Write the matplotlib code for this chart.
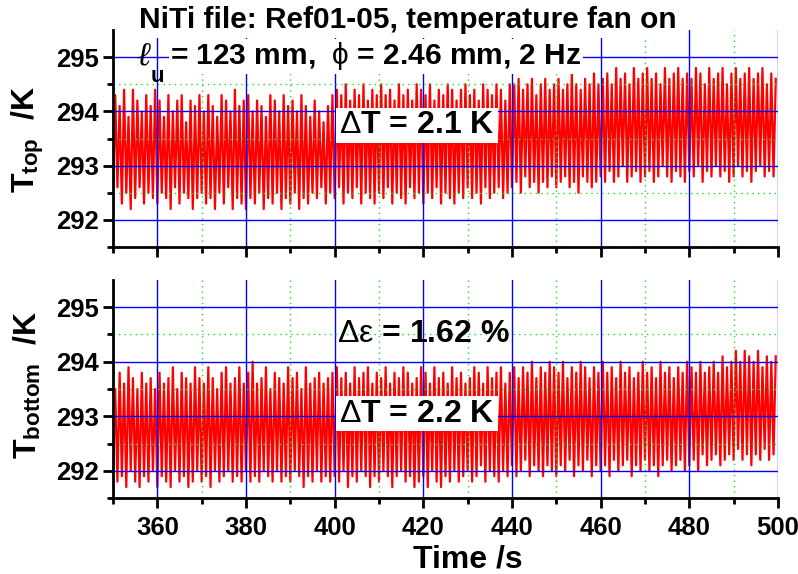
import numpy as np
import matplotlib.pyplot as plt
from matplotlib.ticker import MultipleLocator, FixedLocator

plt.rcParams['font.family'] = ['Liberation Sans', 'DejaVu Sans']
plt.rcParams['font.weight'] = 'bold'
plt.rcParams['mathtext.fontset'] = 'custom'
plt.rcParams['mathtext.rm'] = 'Liberation Sans:regular'
plt.rcParams['mathtext.bf'] = 'Liberation Sans:bold'
plt.rcParams['mathtext.it'] = 'Liberation Serif:italic:regular'

# one peak and one trough per second (350 s ... 499 s)
top_peaks = [
    294.3, 294.1, 294.4, 293.9, 294.4, 294.2, 294.0, 294.3, 294.1, 294.4,
    294.2, 293.9, 294.3, 294.0, 294.2, 294.3, 293.8, 294.2, 294.1, 294.3,
    294.0, 294.3, 294.1, 293.9, 294.3, 294.2, 294.0, 294.4, 294.1, 294.2,
    294.3, 294.0, 294.2, 294.1, 293.9, 294.3, 294.2, 294.0, 294.3, 294.1,
    294.2, 294.0, 294.3, 294.1, 293.9, 294.2, 294.0, 293.8, 294.1, 294.3,
    294.4, 294.3, 294.5, 294.2, 294.4, 294.3, 294.5, 294.2, 294.4, 294.3,
    294.5, 294.3, 294.4, 294.2, 294.5, 294.3, 294.4, 294.2, 294.5, 294.4,
    294.3, 294.5, 294.2, 294.4, 294.3, 294.5, 294.4, 294.2, 294.4, 294.5,
    294.3, 294.4, 294.2, 294.5, 294.4, 294.3, 294.5, 294.4, 294.2, 294.5,
    294.5, 294.6, 294.4, 294.5, 294.6, 294.3, 294.5, 294.6, 294.4, 294.5,
    294.6, 294.4, 294.5, 294.7, 294.5, 294.4, 294.6, 294.5, 294.7, 294.5,
    294.6, 294.7, 294.5, 294.8, 294.6, 294.7, 294.5, 294.8, 294.6, 294.7,
    294.8, 294.6, 294.7, 294.5, 294.8, 294.6, 294.7, 294.8, 294.6, 294.7,
    294.6, 294.8, 294.7, 294.5, 294.8, 294.6, 294.7, 294.8, 294.5, 294.7,
    294.8, 294.6, 294.7, 294.8, 294.6, 294.7, 294.8, 294.5, 294.7, 294.6,
]
top_troughs = [
    292.4, 292.6, 292.3, 292.5, 292.2, 292.4, 292.6, 292.3, 292.5, 292.4,
    292.3, 292.5, 292.4, 292.2, 292.6, 292.3, 292.5, 292.4, 292.2, 292.4,
    292.5, 292.3, 292.4, 292.2, 292.5, 292.3, 292.6, 292.2, 292.4, 292.3,
    292.2, 292.4, 292.3, 292.5, 292.2, 292.4, 292.3, 292.5, 292.2, 292.4,
    292.3, 292.5, 292.2, 292.4, 292.3, 292.5, 292.4, 292.6, 292.3, 292.5,
    292.4, 292.6, 292.3, 292.5, 292.4, 292.6, 292.3, 292.5, 292.4, 292.3,
    292.5, 292.4, 292.6, 292.3, 292.5, 292.4, 292.3, 292.6, 292.4, 292.5,
    292.3, 292.5, 292.4, 292.6, 292.3, 292.5, 292.4, 292.3, 292.5, 292.4,
    292.6, 292.4, 292.5, 292.3, 292.6, 292.4, 292.5, 292.6, 292.4, 292.5,
    292.6, 292.7, 292.5, 292.8, 292.6, 292.7, 292.5, 292.7, 292.6, 292.8,
    292.6, 292.7, 292.8, 292.6, 292.7, 292.5, 292.8, 292.7, 292.6, 292.7,
    292.8, 292.7, 292.9, 292.7, 292.8, 293.0, 292.7, 292.8, 292.9, 292.7,
    292.8, 292.9, 292.7, 292.8, 293.0, 292.8, 292.7, 292.9, 292.8, 292.7,
    292.9, 292.8, 293.0, 292.7, 292.9, 292.8, 293.0, 292.8, 292.9, 292.7,
    292.8, 293.0, 292.8, 292.9, 292.7, 292.9, 293.0, 292.8, 292.9, 292.8,
]
bottom_peaks = [
    293.5, 293.8, 293.6, 293.9, 293.7, 293.5, 293.8, 293.6, 293.7, 293.5,
    293.8, 293.6, 293.7, 293.9, 293.5, 293.8, 293.7, 293.6, 293.9, 293.7,
    293.6, 293.9, 293.7, 293.5, 293.8, 293.9, 293.6, 293.7, 293.9, 293.6,
    293.8, 294.0, 293.6, 293.7, 293.9, 293.5, 293.8, 293.7, 293.6, 293.9,
    293.7, 293.8, 293.5, 293.9, 293.6, 293.7, 293.8, 293.6, 293.7, 293.8,
    293.9, 293.7, 293.8, 293.6, 293.9, 293.7, 293.8, 293.9, 293.6, 293.8,
    293.7, 293.9, 293.6, 293.8, 293.7, 293.9, 293.8, 293.6, 293.7, 293.9,
    293.8, 293.6, 293.9, 293.7, 293.8, 293.6, 293.9, 293.7, 293.8, 293.6,
    293.7, 293.9, 293.8, 293.6, 293.9, 293.7, 293.8, 293.9, 293.6, 293.8,
    293.9, 293.7, 293.9, 293.8, 294.0, 293.7, 293.9, 293.8, 294.0, 293.9,
    293.8, 294.0, 293.7, 293.9, 293.8, 294.0, 293.9, 293.7, 293.9, 293.8,
    294.0, 293.8, 293.9, 293.7, 294.0, 293.8, 293.9, 293.7, 293.8, 294.0,
    293.8, 293.9, 293.7, 294.0, 293.8, 293.9, 293.7, 293.9, 293.8, 294.0,
    293.9, 293.8, 294.0, 293.8, 293.9, 294.0, 293.8, 294.1, 293.9, 294.0,
    294.2, 294.0, 294.2, 294.1, 294.0, 294.2, 293.9, 294.1, 294.0, 294.1,
]
bottom_troughs = [
    292.0, 291.8, 291.9, 291.7, 292.0, 291.8, 291.7, 291.9, 291.8, 292.0,
    291.7, 291.9, 291.8, 291.7, 292.0, 291.8, 291.9, 291.7, 291.8, 292.0,
    291.8, 291.9, 291.7, 292.0, 291.8, 291.9, 292.0, 291.8, 291.9, 291.8,
    292.0, 291.8, 291.9, 291.8, 292.0, 291.9, 291.8, 292.0, 291.8, 291.9,
    291.8, 292.0, 291.9, 291.7, 291.9, 291.8, 292.0, 291.8, 291.9, 291.8,
    291.9, 291.8, 292.0, 291.7, 291.9, 291.8, 292.0, 291.9, 291.7, 291.9,
    291.8, 292.0, 291.9, 291.7, 291.9, 292.0, 291.8, 291.9, 291.7, 291.8,
    291.9, 291.7, 292.0, 291.8, 291.7, 291.9, 291.8, 292.0, 291.8, 291.9,
    292.0, 291.8, 291.9, 292.1, 291.8, 292.0, 291.9, 291.8, 292.0, 291.9,
    292.1, 291.9, 292.0, 292.2, 291.9, 292.1, 292.0, 291.9, 292.1, 292.0,
    291.9, 292.1, 292.0, 292.2, 291.9, 292.1, 292.0, 292.2, 291.9, 292.1,
    292.0, 292.1, 291.9, 292.2, 292.0, 292.1, 292.2, 291.9, 292.1, 292.0,
    292.2, 292.0, 292.1, 291.9, 292.1, 292.2, 292.0, 292.1, 292.2, 292.0,
    292.1, 292.2, 292.0, 292.3, 292.1, 292.2, 292.3, 292.1, 292.2, 292.3,
    292.2, 292.4, 292.2, 292.3, 292.1, 292.3, 292.2, 292.4, 292.2, 292.3,
]

t_start = 350.0
half_step = 0.5


def zigzag(peaks, troughs):
    # trough, peak, trough, peak ... every half second
    y = np.column_stack((troughs, peaks)).ravel()
    t = t_start + half_step * np.arange(len(y))
    return t, y


def style_axis(ax, xticklabels):
    ax.set_xlim(350, 500)
    ax.set_ylim(291.5, 295.5)
    ax.xaxis.set_major_locator(MultipleLocator(20))
    ax.xaxis.set_minor_locator(MultipleLocator(10))
    ax.yaxis.set_major_locator(MultipleLocator(1))
    ax.yaxis.set_minor_locator(FixedLocator([291.5, 292.5, 293.5, 294.5]))
    ax.set_axisbelow(False)
    ax.grid(which='major', color='#0000ff', lw=1.0, ls='-')
    ax.grid(which='minor', color='#22dd22', lw=1.0, ls=(0, (1, 3)))
    for s in ('top', 'right'):
        ax.spines[s].set_visible(False)
    for s in ('left', 'bottom'):
        ax.spines[s].set_linewidth(2)
        ax.spines[s].set_zorder(4)
    ax.tick_params(which='major', direction='out', length=7, width=2,
                   labelsize=18.5, pad=3)
    ax.tick_params(which='minor', direction='out', length=4, width=2)
    ax.tick_params(axis='x', pad=6)
    if not xticklabels:
        ax.tick_params(axis='x', labelbottom=False)
    for lab in ax.get_xticklabels() + ax.get_yticklabels():
        lab.set_fontweight('bold')


fig = plt.figure(figsize=(7.98, 5.74), dpi=100)
ax1 = fig.add_axes([0.1416, 0.5697, 0.8333, 0.378])
ax2 = fig.add_axes([0.1416, 0.1324, 0.8333, 0.3798])

t, y = zigzag(top_peaks, top_troughs)
ax1.plot(t, y, color='#ff0000', lw=1.6)
t, y = zigzag(bottom_peaks, bottom_troughs)
ax2.plot(t, y, color='#ff0000', lw=1.6)

style_axis(ax1, False)
style_axis(ax2, True)

white = dict(facecolor='white', edgecolor='none', pad=2)
ax1.text(401, 293.74, r'$\Delta$T = 2.1 K', fontsize=23, fontweight='bold',
         va='center', ha='left', bbox=white, zorder=5)
ax2.text(400.6, 294.51, r'$\Delta\mathrm{\varepsilon}$ = 1.62 %', fontsize=23,
         fontweight='bold', va='center', ha='left', zorder=5)
ax2.text(401, 293.05, r'$\Delta$T = 2.2 K', fontsize=23, fontweight='bold',
         va='center', ha='left', bbox=white, zorder=5)

fig.text(0.5107, 0.966, 'NiTi file: Ref01-05, temperature fan on',
         fontsize=21.5, fontweight='bold', ha='center', va='center',
         bbox=dict(facecolor='white', edgecolor='none', pad=3))
fig.text(136 / 798, 1 - 57 / 574, r'$\ell$', fontsize=24,
         ha='left', va='center')
fig.text(157 / 798, 1 - 76 / 574, 'u', fontsize=16, fontweight='bold',
         ha='center', va='center')
fig.text(170 / 798, 0.902, r'= 123 mm,  $\mathrm{\phi}$ = 2.46 mm, 2 Hz',
         fontsize=21.5, fontweight='bold', ha='left', va='center',
         bbox=dict(facecolor='white', edgecolor='none', pad=1))

fig.text(0.035, 0.756, r'T$_{\mathbf{top}}$  /K', fontsize=23,
         fontweight='bold', rotation=90, ha='center', va='center')
fig.text(0.035, 0.329, r'T$_{\mathbf{bottom}}$  /K', fontsize=23,
         fontweight='bold', rotation=90, ha='center', va='center')
fig.text(0.586, 0.012, 'Time /s', fontsize=23, fontweight='bold',
         ha='center', va='baseline')

fig.savefig('out.png', dpi=100)
